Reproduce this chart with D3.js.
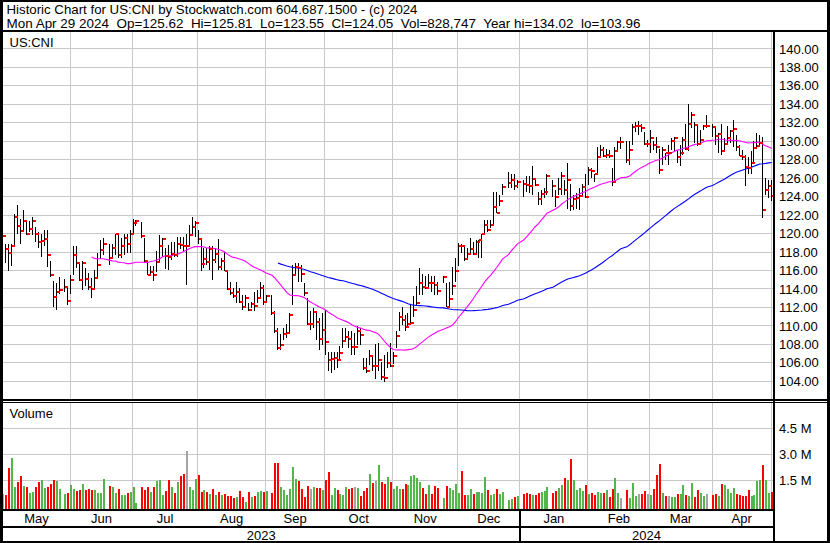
<!DOCTYPE html>
<html><head><meta charset="utf-8">
<script src="https://cdn.jsdelivr.net/npm/d3@7"></script>
<style>
html,body{margin:0;padding:0;background:#fff;}
svg{display:block;font-family:"Liberation Sans",Arial,Helvetica,sans-serif;}
</style></head>
<body><svg id="c" width="830" height="543"></svg>
<script>
// ---------------- DATA ----------------
const titleLine1 = "Historic Chart for US:CNI by Stockwatch.com 604.687.1500 - (c) 2024";
const titleLine2 = "Mon Apr 29 2024  Op=125.62  Hi=125.81  Lo=123.55  Cl=124.05  Vol=828,747  Year hi=134.02  lo=103.96";
const symbolLabel = "US:CNI";
const volumeLabel = "Volume";
const startDate = "2023-05-01";
const endDate = "2024-04-29";
const holidays = ["2023-05-29","2023-06-19","2023-07-04","2023-09-04","2023-11-23",
                  "2023-12-25","2024-01-01","2024-01-15","2024-02-19","2024-03-29"];
const monthLabels = ["May","Jun","Jul","Aug","Sep","Oct","Nov","Dec","Jan","Feb","Mar","Apr"];
const yearLabels = ["2023","2024"];
const priceTicks = [104,106,108,110,112,114,116,118,120,122,124,126,128,130,132,134,136,138,140];
const volumeTicks = [1.5,3.0,4.5];   // millions
const maPeriods = [30,90];

const highs = [
121.2,118.9,118.9,118.9,122.1,123.1,121.6,122.5,121.4,121.4,121.8,120.7,120.2,120.0,120.4,120.4,117.0,114.9,114.7,115.3,115.1,114.1,
115.5,118.7,118.6,116.9,117.0,116.3,115.7,115.2,116.1,117.9,119.3,119.5,118.9,118.9,120.0,119.8,119.5,120.0,120.0,120.4,121.6,
121.5,121.3,119.5,116.9,116.5,116.5,118.1,119.8,119.5,118.4,118.8,119.1,119.1,119.6,119.6,119.6,120.0,120.9,121.8,121.4,
120.4,119.5,118.4,118.4,118.6,118.6,118.4,119.4,117.3,118.0,116.1,114.8,114.1,114.8,114.1,113.4,113.4,112.5,112.6,113.7,113.9,114.8,114.4,
113.4,113.4,111.6,109.8,109.1,109.8,110.2,111.4,116.6,116.8,116.8,116.6,114.6,113.0,111.6,111.9,111.6,110.9,111.4,111.7,
107.2,107.2,107.2,107.2,107.8,109.8,109.8,109.4,109.4,109.2,110.0,109.8,106.5,106.5,107.4,106.9,108.0,108.2,106.1,106.9,107.2,108.2,
107.2,109.5,111.5,112.1,111.2,111.4,112.3,113.2,114.3,116.3,115.6,115.4,115.6,115.4,115.4,114.8,115.4,114.6,114.8,116.4,117.3,
119.0,118.9,118.6,118.4,119.5,119.1,119.3,119.3,120.0,121.5,121.5,121.5,124.5,124.5,124.2,125.4,126.7,126.5,126.4,125.8,
125.8,126.2,126.2,127.3,126.0,124.5,124.7,124.9,126.4,125.8,124.7,126.0,126.7,125.8,127.6,125.4,124.2,124.4,124.9,125.4,126.4,
127.2,127.1,126.5,129.4,129.6,129.4,129.2,129.1,127.1,129.4,130.0,130.5,130.0,130.0,131.9,132.1,132.2,131.9,131.0,130.1,
131.2,130.0,130.5,129.2,129.4,128.7,129.6,130.3,130.5,129.1,129.6,130.5,131.9,134.02,133.2,132.1,131.8,131.2,131.8,132.8,
131.9,131.6,130.9,131.9,130.3,131.6,131.2,132.3,130.7,129.6,129.1,128.5,128.3,128.9,130.0,130.9,130.7,130.5,126.0,125.8,125.81];

const lows = [
119.0,116.8,116.0,116.5,118.6,120.0,118.9,120.2,119.8,120.2,119.8,119.1,118.4,117.5,118.7,116.4,115.3,112.0,111.7,113.5,113.7,112.3,
113.5,115.5,116.3,114.9,113.9,114.3,113.9,113.0,114.1,115.3,117.2,117.7,116.6,117.5,117.7,117.4,117.4,117.7,117.9,117.9,120.0,
120.8,119.5,116.8,115.5,115.5,114.9,115.8,116.8,117.5,116.2,116.1,117.1,117.5,117.5,118.3,118.0,114.4,118.7,119.8,119.6,
118.9,115.9,116.3,116.6,116.1,115.0,116.8,116.1,116.1,116.0,113.9,113.4,113.0,112.5,112.5,111.7,111.9,111.6,111.9,111.6,112.5,113.0,112.3,
112.6,111.2,109.2,107.4,107.4,108.5,108.7,109.2,112.3,115.4,114.8,114.8,113.2,110.1,109.6,109.8,108.5,107.4,107.9,106.9,
105.1,104.9,105.2,105.4,106.3,107.6,108.3,107.6,106.9,106.9,107.9,107.9,105.2,104.9,105.8,105.1,104.2,105.1,104.1,103.96,105.4,105.6,
105.9,107.6,109.4,110.1,109.4,109.8,110.1,111.0,112.3,113.4,113.4,114.0,114.1,113.7,113.4,113.4,114.6,112.0,112.0,113.4,114.8,
116.5,117.9,117.0,117.3,117.7,117.7,117.9,117.3,117.3,120.0,120.2,120.6,120.8,122.2,123.0,124.2,124.9,124.9,124.7,124.9,
124.0,124.5,124.4,124.2,125.1,123.1,123.1,123.8,124.2,124.0,122.9,124.2,124.2,124.2,122.7,122.4,122.6,122.7,122.6,124.0,123.8,
125.3,126.0,125.6,126.4,128.3,128.3,128.2,128.2,125.1,125.8,129.1,129.2,127.6,127.4,129.6,131.0,130.7,131.0,129.6,129.4,
128.7,129.1,128.7,126.5,127.4,128.0,127.4,129.1,128.9,127.6,127.3,128.5,129.1,128.9,131.4,129.8,129.5,129.8,131.2,131.4,
130.5,129.6,128.7,128.5,129.1,129.6,129.8,129.4,128.9,128.4,128.0,125.1,126.5,126.5,127.6,129.2,129.4,121.7,124.2,123.8,123.55];

const closes = [
119.7,118.3,117.9,118.7,121.8,120.8,120.3,121.4,120.0,120.5,121.4,120.0,119.1,119.2,119.4,117.7,115.5,113.1,113.7,113.9,114.2,112.7,
115.0,117.7,116.8,115.0,116.8,115.1,114.2,114.0,115.2,116.6,118.2,118.9,117.3,118.4,120.0,117.7,118.7,119.5,118.9,120.0,121.1,
121.4,119.7,117.0,115.5,115.8,115.5,116.9,118.6,119.4,117.6,117.5,117.8,117.7,118.9,118.8,118.7,118.7,119.8,120.7,121.1,
119.4,116.7,117.2,116.9,118.3,117.1,117.8,116.4,117.0,116.0,114.0,113.6,113.2,113.7,112.6,112.0,113.0,111.7,112.4,112.2,113.0,114.1,112.6,
113.2,111.4,109.4,107.6,107.9,109.1,109.2,111.2,115.5,116.4,116.3,115.6,113.6,110.2,110.2,111.5,110.4,108.6,109.6,108.3,
106.3,106.4,106.5,106.3,107.1,108.4,108.8,108.6,107.7,107.7,109.4,109.0,105.4,105.1,106.7,105.7,105.7,106.3,104.5,104.4,106.0,105.7,
106.7,108.9,111.0,110.6,109.9,110.2,110.3,111.7,112.5,114.6,114.2,114.1,114.7,114.6,114.4,113.8,115.3,112.0,112.9,114.3,116.0,
118.7,118.6,117.2,117.8,118.3,117.8,119.1,119.3,120.0,120.9,120.4,120.9,122.9,122.2,123.5,125.0,125.5,125.8,125.1,125.6,
125.4,125.3,125.2,125.9,125.3,123.7,124.3,124.5,126.2,125.1,124.0,124.8,126.2,124.7,125.8,123.0,123.7,123.9,124.1,125.0,124.0,
126.9,126.8,126.4,128.3,129.1,128.4,128.5,128.4,125.6,128.9,129.9,129.9,128.0,129.1,131.5,131.6,131.6,131.4,129.7,129.7,
130.3,129.6,129.4,126.9,129.1,128.7,128.7,130.0,130.4,128.3,128.7,130.1,129.2,131.9,132.8,131.8,129.7,130.1,131.7,131.7,
131.5,130.6,130.8,128.9,129.7,130.4,131.1,131.3,129.4,128.4,128.3,127.2,127.1,127.6,129.3,129.5,129.8,122.6,124.7,125.2,124.05];

const volumes = [ // millions of shares
0.71,0.65,2.19,2.77,1.13,1.42,1.75,1.17,1.13,0.79,0.85,1.13,1.42,1.52,1.04,1.13,1.27,1.52,1.46,1.0,0.71,0.75,
1.23,1.0,0.88,0.94,1.31,0.94,0.98,0.94,0.94,0.79,0.79,1.58,1.17,1.10,0.75,1.0,0.65,0.65,0.75,0.81,1.10,
0.21,1.1,0.94,1.13,0.85,1.1,1.48,1.52,0.65,0.88,1.52,1.1,0.79,1.42,1.75,1.85,3.19,1.13,0.94,1.58,
1.81,0.85,0.94,0.81,0.71,1.0,0.65,0.85,0.65,0.71,0.6,0.6,0.46,0.56,0.88,0.56,0.27,0.81,0.56,0.62,0.81,0.88,0.81,
0.88,0.79,2.5,2.5,1.13,0.94,0.65,1.0,2.27,1.58,1.46,1.0,0.56,1.17,1.0,1.13,1.04,1.04,0.94,1.52,
2.0,0.65,1.08,0.94,0.71,0.65,1.13,1.0,1.04,1.1,1.04,0.62,0.88,1.08,1.88,1.37,1.48,2.38,1.42,1.27,1.71,1.42,
1.0,1.19,1.0,1.0,1.29,1.23,1.75,1.81,1.62,1.42,1.08,0.73,1.23,0.69,1.17,1.08,0.5,1.17,1.08,0.94,1.31,
0.79,2.04,0.65,0.65,1.0,0.71,0.81,0.85,0.77,1.69,0.92,0.65,0.71,1.0,0.73,0.81,0.37,0.4,0.54,0.6,
0.71,0.79,0.71,0.65,0.65,0.75,0.85,0.9,1.1,0.75,0.88,1.04,1.23,1.62,1.52,2.73,1.52,0.94,1.08,0.88,1.23,
0.71,0.79,0.65,0.85,0.75,0.75,0.94,0.56,0.98,1.62,0.75,0.46,0.92,0.46,1.37,0.6,0.71,0.71,0.88,0.71,
0.65,1.0,1.81,2.44,0.79,0.6,0.6,0.54,0.54,0.71,0.71,1.23,0.65,0.6,1.33,0.56,0.92,0.79,0.6,0.71,
0.65,0.71,0.6,1.29,1.23,0.98,0.79,1.04,0.71,0.65,0.6,0.6,0.92,0.6,0.65,1.46,1.52,2.38,1.52,0.75,0.83];

// ---------------- LAYOUT ----------------
const W = 830, H = 543;
const plotL = 2.5, plotR = 773.3;
const priceTop = 32, priceBot = 399;
const volTop = 403, volBot = 509.3;
const gridColor = "#c8c8c8";
const green = "#52b64a", red = "#ff0000", gray = "#a4a4a4";
const fontSize = 13;

const svg = d3.select("#c");
svg.append("rect").attr("width", W).attr("height", H).attr("fill", "#fff");

const parse = d3.utcParse("%Y-%m-%d");
const fmt = d3.utcFormat("%Y-%m-%d");
const weekdays = d3.utcDay.range(parse(startDate), d3.utcDay.offset(parse(endDate), 1))
  .filter(d => d.getUTCDay() > 0 && d.getUTCDay() < 6);
const hol = new Set(holidays);
const tradeIdx = weekdays.map((d, i) => i).filter(i => !hol.has(fmt(weekdays[i])));
if (tradeIdx.length !== closes.length) console.error("length mismatch", tradeIdx.length, closes.length);
const data = tradeIdx.map((w, k) => ({w, h: highs[k], l: lows[k], c: closes[k], v: volumes[k]}));

const x = d3.scaleLinear().domain([0, weekdays.length - 1]).range([2.4, 771.2]);
const y = d3.scaleLinear().domain([104, 140]).range([381.3, 48.9]);
const yv = d3.scaleLinear().domain([0, 4.5]).range([506.3, 428.3]);

const defs = svg.append("defs");
defs.append("clipPath").attr("id", "cp").append("rect")
  .attr("x", plotL).attr("y", priceTop).attr("width", plotR - plotL).attr("height", priceBot - priceTop);
defs.append("clipPath").attr("id", "cv").append("rect")
  .attr("x", plotL).attr("y", volTop).attr("width", plotR - plotL).attr("height", volBot - volTop);

const crisp = v => Math.floor(v) + 0.5;

// month boundaries: last weekday on or before the 1st of each month
const monthStarts = d3.utcMonth.range(d3.utcMonth.offset(parse(startDate), 1), d3.utcMonth.offset(parse(endDate), 1));
const bis = d3.bisector(d => d).right;
const gridX = monthStarts.map(d => x(bis(weekdays, d) - 1));
const janX = gridX[monthLabels.indexOf("Jan") - 1];

// ---------------- GRID ----------------
const grid = svg.append("g").attr("stroke", gridColor).attr("stroke-width", 1).attr("shape-rendering", "crispEdges");
priceTicks.forEach(p => grid.append("line").attr("x1", plotL).attr("x2", plotR).attr("y1", crisp(y(p))).attr("y2", crisp(y(p))));
volumeTicks.forEach(v => grid.append("line").attr("x1", plotL).attr("x2", plotR).attr("y1", crisp(yv(v))).attr("y2", crisp(yv(v))));
gridX.forEach(gx => {
  grid.append("line").attr("x1", crisp(gx)).attr("x2", crisp(gx)).attr("y1", priceTop).attr("y2", priceBot);
  grid.append("line").attr("x1", crisp(gx)).attr("x2", crisp(gx)).attr("y1", volTop).attr("y2", volBot);
});

// ---------------- PRICE BARS ----------------
const pg = svg.append("g").attr("clip-path", "url(#cp)");
pg.append("g").attr("stroke", "#000").attr("stroke-width", 1).attr("shape-rendering", "crispEdges")
  .selectAll("line").data(data).join("line")
  .attr("x1", d => Math.round(x(d.w)) + 0.5).attr("x2", d => Math.round(x(d.w)) + 0.5)
  .attr("y1", d => Math.round(y(d.h))).attr("y2", d => Math.max(Math.round(y(d.l)), Math.round(y(d.h)) + 1));

// moving averages
const maColors = ["#ff00ff", "#0000ff"];
maPeriods.forEach((n, j) => {
  const ma = data.map((d, k) => k < n - 1 ? null : d3.mean(data.slice(k - n + 1, k + 1), e => e.c));
  const line = d3.line().defined((d, k) => ma[k] != null).x(d => x(d.w) + 0.5).y((d, k) => y(ma[k]));
  pg.append("path").datum(data).attr("d", line).attr("fill", "none")
    .attr("stroke", maColors[j]).attr("stroke-width", 1.1);
});

// close markers
pg.append("g").attr("fill", red).attr("shape-rendering", "crispEdges")
  .selectAll("rect").data(data).join("rect")
  .attr("x", d => Math.round(x(d.w)) + 1).attr("y", d => Math.round(y(d.c)) - 1)
  .attr("width", 2.5).attr("height", 2.2);

// ---------------- VOLUME ----------------
const vg = svg.append("g").attr("clip-path", "url(#cv)").attr("shape-rendering", "crispEdges");
vg.selectAll("rect").data(data).join("rect")
  .attr("x", d => Math.round(x(d.w)) - 0.5).attr("width", 2)
  .attr("y", d => yv(d.v)).attr("height", d => volBot - yv(d.v))
  .attr("fill", (d, k) => k === 0 ? gray : (d.c > data[k - 1].c ? green : d.c < data[k - 1].c ? red : gray));

// ---------------- FRAME ----------------
const fr = svg.append("g").attr("stroke", "#000").attr("shape-rendering", "crispEdges");
const L = (x1, y1, x2, y2, w) => fr.append("line").attr("x1", x1).attr("y1", y1).attr("x2", x2).attr("y2", y2).attr("stroke-width", w);
L(0, 1, W, 1, 2);                 // top
L(1.25, 0, 1.25, H, 2.5);         // left
L(828.5, 0, 828.5, H, 3);         // right
L(0, 541.8, W, 541.8, 2.5);       // bottom
L(0, 30.8, W, 30.8, 2.5);         // under title
L(774.3, 31, 774.3, H, 2);        // right axis separator
L(0, 400, W, 400, 1.3);           // double separator
L(0, 402.6, W, 402.6, 1.3);
L(0, 510.2, 775, 510.2, 2);       // volume bottom
L(0, 527.4, 775, 527.4, 2);       // month row bottom
L(crisp(janX), 510, crisp(janX), 541, 2); // year divider

// ---------------- TEXT ----------------
const t = svg.append("g").attr("font-size", fontSize).attr("fill", "#000");
t.append("text").attr("x", 6.5).attr("y", 13.8).attr("textLength", 411).attr("lengthAdjust", "spacingAndGlyphs").text(titleLine1);
t.append("text").attr("x", 6.5).attr("y", 28.2).attr("textLength", 634).attr("lengthAdjust", "spacingAndGlyphs")
  .attr("xml:space", "preserve").style("white-space", "pre").text(titleLine2);
t.append("text").attr("x", 9.5).attr("y", 46.5).text(symbolLabel);
t.append("text").attr("x", 9.5).attr("y", 418).text(volumeLabel);

priceTicks.forEach(p => t.append("text").attr("x", 779).attr("y", y(p) + 4.6).text(d3.format(".2f")(p)));
volumeTicks.forEach(v => t.append("text").attr("x", 779).attr("y", yv(v) + 4.6).text(d3.format(".1f")(v) + " M"));

const bounds = [plotL, ...gridX, plotR];
monthLabels.forEach((m, i) => t.append("text").attr("x", (bounds[i] + bounds[i + 1]) / 2).attr("y", 522.5)
  .attr("text-anchor", "middle").text(m));
const yb = [plotL, janX, plotR];
yearLabels.forEach((yl, i) => t.append("text").attr("x", (yb[i] + yb[i + 1]) / 2).attr("y", 539.5)
  .attr("text-anchor", "middle").text(yl));
</script>
</body></html>
